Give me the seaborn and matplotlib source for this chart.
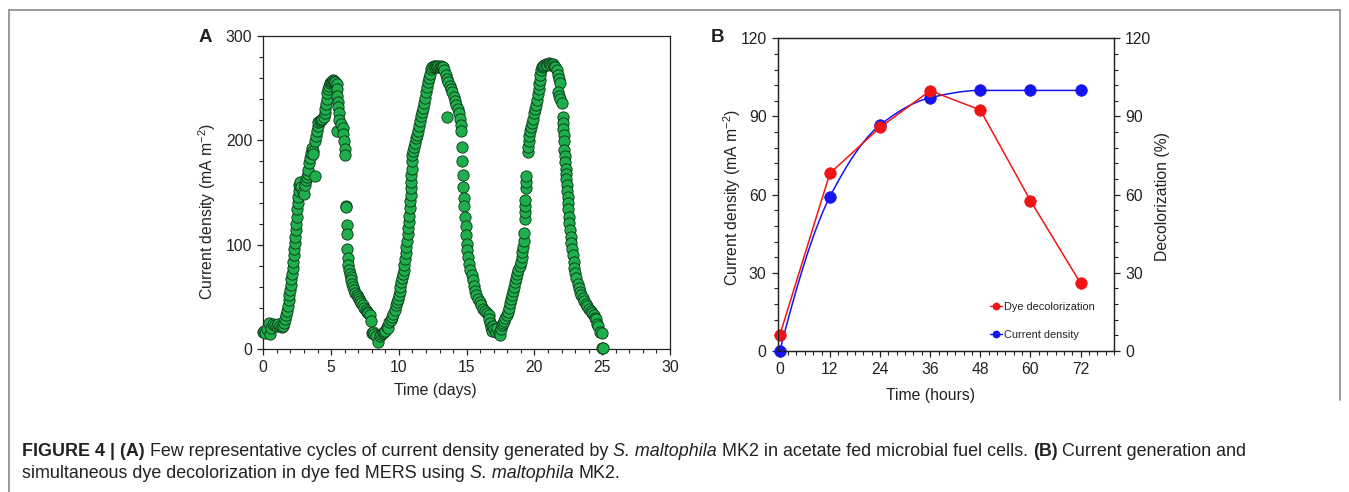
import numpy as np
import pandas as pd
import matplotlib
matplotlib.use("Agg")
import matplotlib.pyplot as plt
from matplotlib.ticker import MultipleLocator
from matplotlib.lines import Line2D
import seaborn as sns

# ---------------- data: panel A (time in days, current density mA m-2) ----------------
cycle1 = [(0.0,17),(0.05,18),(0.15,16),(0.3,19),(0.45,25),(0.5,15),(0.6,20),(0.75,24),(0.86,23),(1.0,22),
          (1.1,24),(1.23,22),(1.35,21),(1.47,22),(1.55,25),(1.62,29),(1.7,33),(1.76,37),(1.82,41),(1.88,47),
          (1.93,52),(1.97,57),(2.02,62),(2.07,67),(2.12,72),(2.16,78),(2.2,84),(2.24,90),(2.28,96),(2.32,102),
          (2.36,108),(2.4,114),(2.43,120),(2.46,127),(2.5,134),(2.53,140),(2.56,146),(2.6,152),(2.66,157),
          (2.72,160),(2.8,155),(2.9,151),(3.0,149),(3.07,157),(3.14,162),(3.2,165),(3.27,168),(3.32,172),
          (3.38,178),(3.44,183),(3.5,188),(3.57,193),(3.63,190),(3.69,187),(3.81,166),(3.78,199),(3.86,204),
          (3.94,209),(4.0,214),(4.06,218),(4.15,219),(4.25,220),(4.35,221),(4.45,222),(4.52,226),(4.58,230),
          (4.63,235),(4.68,240),(4.72,245),(4.78,249),(4.85,252),(4.92,255),(5.0,256),(5.08,257),(5.16,258),
          (5.24,257),(5.32,256),(5.41,254),(5.44,249),(5.47,243),(5.5,237),(5.53,232),(5.57,226),(5.45,209),
          (5.62,220),(5.75,216),(5.85,212),(5.9,206),(5.95,199),(6.0,192),(6.03,186),
          (6.08,137),(6.1,136),(6.14,119),(6.17,110),(6.2,96),(6.24,87),(6.28,81),(6.33,76),(6.38,72),
          (6.44,69),(6.5,66),(6.57,63),(6.64,60),(6.72,57),(6.8,54),(6.88,52),(6.96,50),(7.05,48),(7.14,46),
          (7.24,44),(7.34,42),(7.45,40),(7.56,38),(7.66,36),(7.76,35),(7.86,33),(7.95,27),(8.0,16),(8.1,17),
          (8.2,15),(8.3,13),(8.48,7)]
cycle2 = [(8.6,13),(8.7,15),(8.8,16),(8.9,17),(9.0,18),(9.1,21),(9.2,20),(9.3,26),(9.4,28),(9.5,31),
          (9.6,34),(9.7,38),(9.78,42),(9.85,45),(9.92,48),(10.0,52),(10.06,56),(10.12,60),(10.18,64),
          (10.24,68),(10.3,72),(10.35,76),(10.4,81),(10.45,86),(10.5,92),(10.55,98),(10.6,104),(10.64,110),
          (10.68,116),(10.72,122),(10.76,128),(10.8,135),(10.83,142),(10.86,148),(10.88,154),(10.9,160),
          (10.92,167),(10.94,173),(10.96,180),(10.99,186),(11.06,190),(11.13,194),(11.2,198),(11.28,202),
          (11.36,205),(11.43,209),(11.5,214),(11.57,219),(11.64,223),(11.71,227),(11.78,231),(11.85,236),
          (11.92,241),(12.0,246),(12.08,251),(12.16,256),(12.24,260),(12.32,264),(12.4,268),(12.48,270),
          (12.56,271),(12.65,270),(12.74,271),(12.83,270),(12.92,271),(13.0,270),(13.08,271),(13.16,270),
          (13.25,270),(13.35,267),(13.45,263),(13.57,222),(13.55,259),(13.65,256),(13.75,252),(13.85,249),
          (13.95,246),(14.05,242),(14.15,238),(14.25,234),(14.35,230),(14.43,226),(14.5,221),(14.56,215),
          (14.62,209),(14.65,194),(14.68,180),(14.72,167),(14.76,155),(14.8,145),(14.84,137),(14.88,127),
          (14.92,118),(14.96,109),(15.0,101),(15.05,95),(15.12,88),(15.2,82),(15.28,76),(15.36,71),
          (15.44,66),(15.53,61),(15.62,56),(15.72,52),(15.83,48),(15.95,45),(16.08,42),(16.22,39),
          (16.36,37),(16.5,35),(16.62,33),(16.68,29),(16.72,25),(16.8,21),(16.88,18),(16.96,22),(17.05,19),
          (17.15,17),(17.25,20),(17.35,16),(17.45,14)]
cycle3 = [(17.55,19),(17.62,23),(17.7,25),(17.78,27),(17.86,30),(17.94,33),(18.02,36),(18.1,40),
          (18.18,44),(18.26,48),(18.34,52),(18.42,56),(18.5,60),(18.58,64),(18.66,68),(18.74,72),(18.82,76),
          (18.9,80),(18.98,84),(19.05,88),(19.1,93),(19.15,98),(19.2,104),(19.24,111),(19.28,125),(19.3,131),
          (19.32,137),(19.33,143),(19.36,154),(19.38,160),(19.4,166),(19.5,189),(19.53,194),(19.57,199),
          (19.62,204),(19.67,209),(19.74,213),(19.82,217),(19.9,221),(19.98,226),(20.06,230),(20.14,234),
          (20.2,239),(20.26,244),(20.32,249),(20.36,254),(20.4,258),(20.42,263),(20.46,267),(20.54,270),
          (20.64,271),(20.74,272),(20.84,273),(20.94,272),(21.04,274),(21.14,273),(21.24,272),(21.34,273),
          (21.44,271),(21.54,270),(21.64,267),(21.72,263),(21.8,259),(21.86,255),(21.76,246),(21.82,243),
          (21.9,240),(22.0,236),(22.08,222),(22.11,217),(22.14,211),(22.16,205),(22.18,199),(22.21,191),
          (22.24,185),(22.27,179),(22.3,173),(22.33,168),(22.35,163),(22.38,157),(22.41,152),(22.44,146),
          (22.47,140),(22.5,134),(22.54,127),(22.58,121),(22.62,114),(22.67,108),(22.72,102),(22.77,96),
          (22.83,90),(22.89,84),(22.95,78),(23.02,73),(23.1,68),(23.18,63),(23.27,59),(23.36,55),(23.46,52),
          (23.56,49),(23.67,46),(23.78,43),(23.9,41),(24.02,39),(24.14,37),(24.26,35),(24.36,33),(24.46,30),
          (24.55,29),(24.6,24),(24.7,22),(24.85,17),(24.95,16),(25.0,1),(25.05,1)]

# ---------------- data: panel B ----------------
hours_b = [0, 12, 24, 36, 48, 60, 72]
decolorization_b = [6.1, 68.2, 85.8, 99.9, 92.5, 57.7, 26.0]
current_b = [0.0, 59.2, 86.7, 97.2, 100.0, 100.0, 100.0]

xticks_a = [0, 5, 10, 15, 20, 25, 30]
yticks_a = [0, 100, 200, 300]
xticks_b = [0, 12, 24, 36, 48, 60, 72]
yticks_b = [0, 30, 60, 90, 120]

# ---------------- style ----------------
W, H = 1349, 492
sns.set_theme(style="ticks")
plt.rcParams["font.family"] = ["Liberation Sans", "DejaVu Sans"]
plt.rcParams["mathtext.default"] = "regular"
plt.rcParams["axes.edgecolor"] = "#222222"
plt.rcParams["axes.linewidth"] = 0.9
plt.rcParams["xtick.color"] = "#222222"
plt.rcParams["ytick.color"] = "#222222"

fig = plt.figure(figsize=(W / 100, H / 100), dpi=100)
fig.patch.set_facecolor("white")

TXT = "#222222"
FS = 11.3

def style_ticks(ax):
    ax.tick_params(which="major", direction="out", length=4, width=0.9, labelsize=FS, colors=TXT, pad=4)
    ax.tick_params(which="minor", direction="out", length=3, width=0.8)

def place_label(label, ax, xpix, ypix, ax_box):
    # ax_box = (left, bottom, width, height) in pixels from top-left origin
    l, b, w, h = ax_box
    label.set_verticalalignment("center")
    label.set_horizontalalignment("center")
    return ((xpix - l) / w, (b - ypix) / h)

# ---------------- panel A ----------------
boxA = (263.3, 349.3, 406.7, 313.3)
axA = fig.add_axes([boxA[0] / W, 1 - boxA[1] / H, boxA[2] / W, boxA[3] / H])
df_a = pd.DataFrame(cycle1 + cycle2 + cycle3, columns=["days", "current"])
sns.scatterplot(data=df_a, x="days", y="current", ax=axA, s=66, color="#1fae4c",
                edgecolor="#0b3315", linewidth=0.6, clip_on=False, zorder=3, legend=False)
axA.set_xlim(0, 30)
axA.set_ylim(0, 300)
axA.set_xticks(xticks_a)
axA.set_yticks(yticks_a)
axA.xaxis.set_minor_locator(MultipleLocator(1))
axA.yaxis.set_minor_locator(MultipleLocator(20))
style_ticks(axA)
axA.tick_params(which="both", top=False, right=False)
for sp in axA.spines.values():
    sp.set_visible(True)
axA.set_xlabel("Time (days)", fontsize=FS, color=TXT)
axA.set_ylabel("Current density (mA m$^{-2}$)", fontsize=FS, color=TXT)
axA.xaxis.set_label_coords(*place_label(axA.xaxis.label, axA, 435, 390, boxA))
axA.yaxis.set_label_coords(*place_label(axA.yaxis.label, axA, 207, 211, boxA))
fig.text(205 / W, 1 - 38 / H, "A", fontsize=13.5, fontweight="bold", color=TXT, ha="center", va="center")

# ---------------- panel B ----------------
def pchip(x, y, xs):
    x = np.asarray(x, float); y = np.asarray(y, float)
    h = np.diff(x); d = np.diff(y) / h
    n = len(x); m = np.zeros(n)
    for k in range(1, n - 1):
        if d[k - 1] * d[k] > 0:
            w1 = 2 * h[k] + h[k - 1]; w2 = h[k] + 2 * h[k - 1]
            m[k] = (w1 + w2) / (w1 / d[k - 1] + w2 / d[k])
    m[0] = ((2 * h[0] + h[1]) * d[0] - h[0] * d[1]) / (h[0] + h[1])
    if np.sign(m[0]) != np.sign(d[0]): m[0] = 0
    m[-1] = 0 if d[-1] == 0 else d[-1]
    idx = np.clip(np.searchsorted(x, xs) - 1, 0, n - 2)
    t = (xs - x[idx]) / h[idx]
    h00 = 2 * t**3 - 3 * t**2 + 1; h10 = t**3 - 2 * t**2 + t
    h01 = -2 * t**3 + 3 * t**2; h11 = t**3 - t**2
    return h00 * y[idx] + h10 * h[idx] * m[idx] + h01 * y[idx + 1] + h11 * h[idx] * m[idx + 1]

RED = "#f01414"
BLUE = "#1414f0"
boxB = (777.7, 351.0, 336.3, 312.7)
axB = fig.add_axes([boxB[0] / W, 1 - boxB[1] / H, boxB[2] / W, boxB[3] / H])
df_b = pd.DataFrame({"hours": hours_b, "decol": decolorization_b, "current": current_b})
xs = np.linspace(hours_b[0], hours_b[-1], 300)
axB.plot(xs, pchip(hours_b, current_b, xs), color=BLUE, lw=1.1, zorder=3)
sns.scatterplot(data=df_b, x="hours", y="current", ax=axB, s=70, color=BLUE, edgecolor=BLUE,
                linewidth=0.5, zorder=4, clip_on=False, legend=False)
sns.lineplot(data=df_b, x="hours", y="decol", ax=axB, color=RED, lw=1.1, marker="o", markersize=8.3,
             markeredgecolor=RED, markeredgewidth=0.5, zorder=5, clip_on=False, legend=False)
axB.set_xlim(-0.5, 80)
axB.set_ylim(0, 120)
axB.set_xticks(xticks_b)
axB.set_yticks(yticks_b)
axB.xaxis.set_minor_locator(MultipleLocator(2))
axB.yaxis.set_minor_locator(MultipleLocator(6))
style_ticks(axB)
axB.tick_params(which="both", top=False, right=False)
for sp in axB.spines.values():
    sp.set_visible(True)
axB.set_xlabel("Time (hours)", fontsize=FS, color=TXT)
axB.set_ylabel("Current density (mA m$^{-2}$)", fontsize=FS, color=TXT)
axB.xaxis.set_label_coords(*place_label(axB.xaxis.label, axB, 931, 396, boxB))
axB.yaxis.set_label_coords(*place_label(axB.yaxis.label, axB, 732, 197, boxB))

axB2 = axB.twinx()
axB2.set_ylim(0, 120)
axB2.set_yticks(yticks_b)
axB2.yaxis.set_minor_locator(MultipleLocator(6))
style_ticks(axB2)
axB2.tick_params(which="both", left=False, right=True)
axB2.set_ylabel("Decolorization (%)", fontsize=FS, color=TXT)
axB2.yaxis.set_label_coords(*place_label(axB2.yaxis.label, axB2, 1163, 197, boxB))

handles = [Line2D([0], [0], color=RED, lw=1.0, marker="o", markersize=4.6),
           Line2D([0], [0], color=BLUE, lw=1.0, marker="o", markersize=4.6)]
axB.legend(handles, ["Dye decolorization", "Current density"], loc="upper left",
           bbox_to_anchor=((990 - 777.7) / 336.3, (351 - 302) / 312.7), frameon=False,
           fontsize=7.9, handlelength=1.05, handletextpad=0.2, labelspacing=1.65, borderpad=0,
           borderaxespad=0, labelcolor=TXT)
fig.text(718 / W, 1 - 38 / H, "B", fontsize=13.5, fontweight="bold", color=TXT, ha="center", va="center")

# ---------------- frame ----------------
frame_col = "#8a8a8a"
fig.add_artist(Line2D([9 / W, 9 / W], [1 - 10 / H, 0], transform=fig.transFigure, color=frame_col, lw=1.2))
fig.add_artist(Line2D([9 / W, 1340 / W], [1 - 10 / H, 1 - 10 / H], transform=fig.transFigure, color=frame_col, lw=1.2))
fig.add_artist(Line2D([1340 / W, 1340 / W], [1 - 10 / H, 1 - 400 / H], transform=fig.transFigure, color=frame_col, lw=1.2))

# ---------------- caption ----------------
CAP = 12.9
renderer = fig.canvas.get_renderer()

def text_width(s, **kw):
    t = fig.text(0, 0, s, fontsize=CAP, **kw)
    w = t.get_window_extent(renderer).width
    t.remove()
    return w

space_w = text_width("a a") - text_width("aa")

def rich_line(x0, ypix, pieces):
    x = x0
    for txt, kw in pieces:
        lead = len(txt) - len(txt.lstrip(" "))
        trail = len(txt) - len(txt.rstrip(" "))
        core = txt.strip(" ")
        x += lead * space_w
        t = fig.text(x / W, 1 - ypix / H, core, fontsize=CAP, color=TXT, va="center", ha="left", **kw)
        x += t.get_window_extent(renderer).width + trail * space_w

B_ = {"fontweight": "bold"}
I_ = {"fontstyle": "italic"}
N_ = {}
rich_line(22, 451, [("FIGURE 4 | (A)", B_),
                    (" Few representative cycles of current density generated by ", N_),
                    ("S. maltophila", I_),
                    (" MK2 in acetate fed microbial fuel cells. ", N_),
                    ("(B)", B_),
                    (" Current generation and", N_)])
rich_line(22, 474, [("simultaneous dye decolorization in dye fed MERS using ", N_),
                    ("S. maltophila", I_),
                    (" MK2.", N_)])

fig.savefig("out.png", dpi=100, facecolor="white")
